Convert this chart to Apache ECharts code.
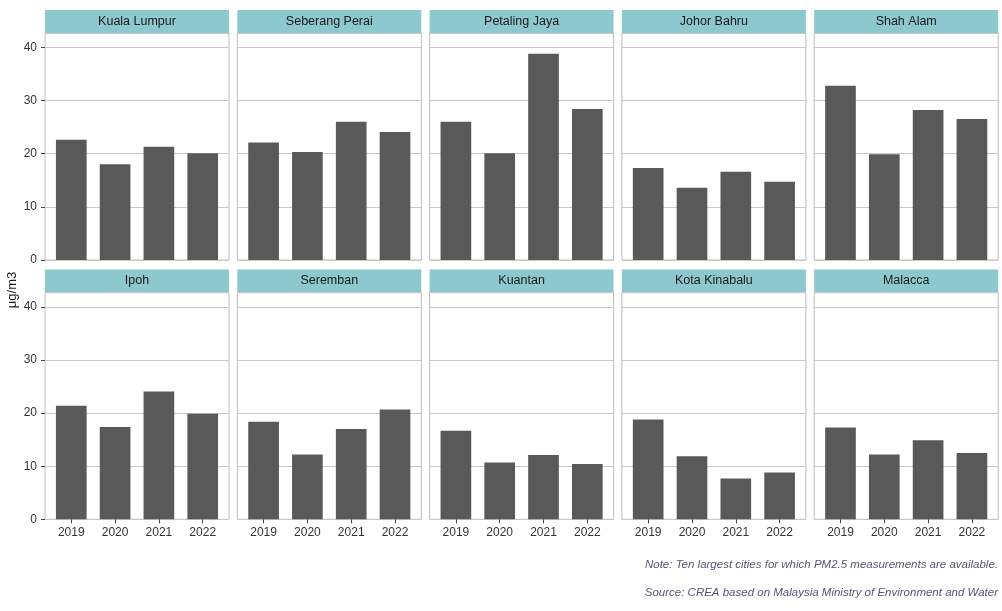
<!DOCTYPE html>
<html><head><meta charset="utf-8">
<script src="https://cdn.jsdelivr.net/npm/echarts@6/dist/echarts.min.js"></script>
<style>html,body{margin:0;padding:0;background:#fff}#c{width:1002px;height:611px}</style>
</head><body><div id="c"></div>
<script>
const years = ['2019', '2020', '2021', '2022'];
const cities = ['Kuala Lumpur', 'Seberang Perai', 'Petaling Jaya', 'Johor Bahru', 'Shah Alam',
                'Ipoh', 'Seremban', 'Kuantan', 'Kota Kinabalu', 'Malacca'];
const kualaLumpur   = [22.6, 18.0, 21.3, 20.1];
const seberangPerai = [22.1, 20.3, 26.0, 24.1];
const petalingJaya  = [26.0, 20.1, 38.8, 28.4];
const johorBahru    = [17.3, 13.6, 16.6, 14.7];
const shahAlam      = [32.8, 19.9, 28.2, 26.5];
const ipoh          = [21.4, 17.4, 24.1, 19.9];
const seremban      = [18.4, 12.2, 17.0, 20.7];
const kuantan       = [16.7, 10.7, 12.1, 10.4];
const kotaKinabalu  = [18.8, 11.9, 7.7, 8.8];
const malacca       = [17.3, 12.2, 14.9, 12.5];
const seriesValues = [kualaLumpur, seberangPerai, petalingJaya, johorBahru, shahAlam,
                      ipoh, seremban, kuantan, kotaKinabalu, malacca];
const yTicks = [0, 10, 20, 30, 40];
const yTitle = 'μg/m3';
const note1 = 'Note: Ten largest cities for which PM2.5 measurements are available.';
const note2 = 'Source: CREA based on Malaysia Ministry of Environment and Water';

const FONT = 'Liberation Sans, Arial, Helvetica, sans-serif';
const left0 = 45, step = 192.3, pw = 184;
const rows = [{stripTop: 10, top: 33, h: 227}, {stripTop: 269.5, top: 292.7, h: 226.6}];
const stripH = 23;
const yMax = 42.7;
const pad = pw * 0.1 / 4.2;

const grids = [], xAxes = [], yAxes = [], series = [], graphics = [];
cities.forEach((name, i) => {
  const r = Math.floor(i / 5), c = i % 5;
  const row = rows[r];
  const x = left0 + c * step;
  grids.push({left: x, top: row.top, width: pw, height: row.h, show: true,
    borderColor: '#bdbdbd', borderWidth: 1, backgroundColor: '#fff', containLabel: false});
  const bg = grids.length - 1;
  xAxes.push({gridIndex: bg, type: 'value', min: 0, max: 1, show: false});
  yAxes.push({gridIndex: bg, type: 'value', min: 0, max: yMax, interval: 10,
    axisLine: {show: false},
    axisTick: {show: c === 0, length: 4, lineStyle: {color: '#444'}},
    axisLabel: {show: c === 0, showMaxLabel: false, margin: 8, color: '#333',
      fontFamily: FONT, fontSize: 12,
      formatter: v => yTicks.indexOf(Math.round(v)) >= 0 && Math.abs(v - Math.round(v)) < 1e-6 ? String(Math.round(v)) : ''},
    splitLine: {show: true, lineStyle: {color: '#c8c8c8', width: 1}}});
  grids.push({left: x + pad, top: row.top, width: pw - 2 * pad, height: row.h, show: false});
  const dg = grids.length - 1;
  xAxes.push({gridIndex: dg, type: 'category', data: years, boundaryGap: true,
    axisLine: {show: false},
    axisTick: {show: r === 1, alignWithLabel: true, length: 4, lineStyle: {color: '#444'}},
    axisLabel: {show: r === 1, margin: 7, color: '#333', fontFamily: FONT, fontSize: 12, interval: 0}});
  yAxes.push({gridIndex: dg, type: 'value', min: 0, max: yMax, show: false, splitLine: {show: false}});
  series.push({type: 'bar', xAxisIndex: dg, yAxisIndex: dg, data: seriesValues[i],
    barWidth: '70%', itemStyle: {color: '#595959'}, silent: true});
  graphics.push({type: 'rect', left: x, top: row.stripTop, shape: {width: pw, height: stripH},
    style: {fill: '#8dc8cf'}, silent: true});
  graphics.push({type: 'text', x: x + pw / 2, y: row.stripTop + stripH / 2,
    style: {text: name, fill: '#1a1a1a', font: '12.5px ' + FONT, align: 'center', verticalAlign: 'middle'}});
});
graphics.push({type: 'text', x: 12, y: 290, rotation: Math.PI / 2,
  style: {text: yTitle, fill: '#1a1a1a', font: '13px ' + FONT, align: 'center', verticalAlign: 'middle'}});
graphics.push({type: 'text', x: 998, y: 565,
  style: {text: note1, fill: '#55557a', font: 'italic 11.5px ' + FONT, align: 'right', verticalAlign: 'middle'}});
graphics.push({type: 'text', x: 998, y: 593,
  style: {text: note2, fill: '#55557a', font: 'italic 11.5px ' + FONT, align: 'right', verticalAlign: 'middle'}});

const chart = echarts.init(document.getElementById('c'), null, {renderer: 'canvas'});
chart.setOption({animation: false, backgroundColor: '#fff', grid: grids, xAxis: xAxes, yAxis: yAxes,
  series: series, graphic: graphics});
</script></body></html>
